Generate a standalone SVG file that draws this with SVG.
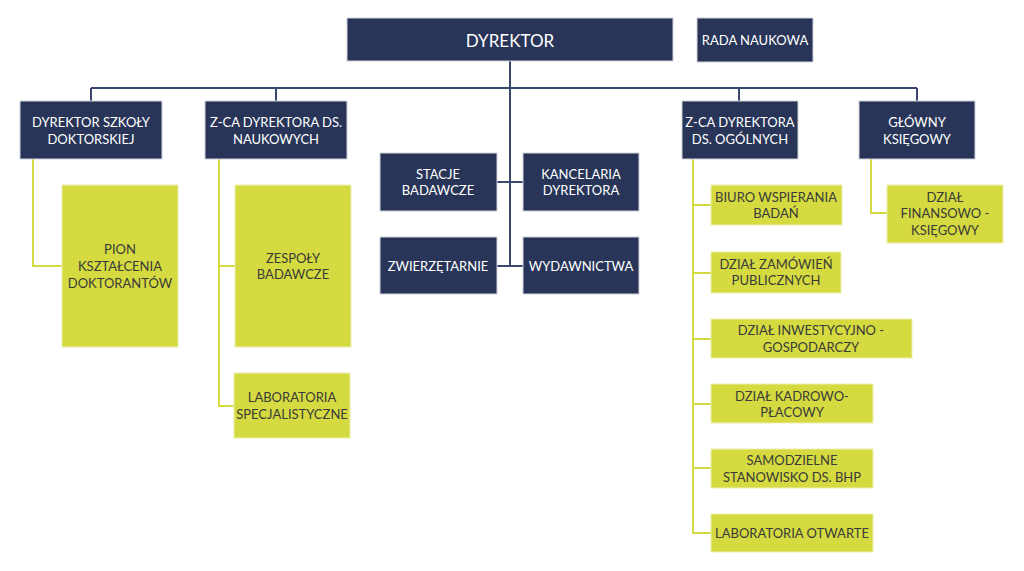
<svg xmlns="http://www.w3.org/2000/svg" width="1024" height="571" viewBox="0 0 1024 571">
<style>
.n rect{fill:#283558;stroke:#cfd3dc;stroke-width:1}
.y rect{fill:#d4da3f;stroke:#eef0b0;stroke-width:1}
text{font-family:Lato,"Open Sans","Liberation Sans",sans-serif;font-size:13px;text-anchor:middle;dominant-baseline:central}
.n text{fill:#ffffff}
.y text{fill:#3a3a3a}
.cn{stroke:#3b4870;stroke-width:2;fill:none}
.cy{stroke:#d4da3f;stroke-width:2;fill:none}
</style>
<rect width="1024" height="571" fill="#ffffff"/>
<g id="connectors">
<path class="cn" d="M510 61V266M91 88H917M91 88V101M276 88V101M739 88V101M917 88V101M497 182H523M497 266H523"/>
<path class="cy" d="M33 159V266H62M219 159V406H234M219 266H235M693 159V533H711M693 205H711M693 273H711M693 339H711M693 404H711M693 468H711M871 159V213H887"/>
</g>
<g id="dyrektor" class="n"><rect x="347" y="18" width="326" height="43"/><text x="510" y="40" style="font-size:17px">DYREKTOR</text></g>
<g id="rada" class="n"><rect x="697" y="18" width="116" height="44"/><text x="755" y="40">RADA NAUKOWA</text></g>
<g id="dyr-szkoly" class="n"><rect x="20" y="101" width="142" height="58"/><text x="91" y="122">DYREKTOR SZKOŁY</text><text x="91" y="139">DOKTORSKIEJ</text></g>
<g id="zca-nauk" class="n"><rect x="205" y="101" width="142" height="58"/><text x="276" y="122">Z-CA DYREKTORA DS.</text><text x="276" y="139">NAUKOWYCH</text></g>
<g id="zca-ogol" class="n"><rect x="682" y="101" width="116" height="58"/><text x="740" y="122">Z-CA DYREKTORA</text><text x="740" y="139">DS. OGÓLNYCH</text></g>
<g id="glowny" class="n"><rect x="859" y="101" width="116" height="58"/><text x="917" y="122">GŁÓWNY</text><text x="917" y="139">KSIĘGOWY</text></g>
<g id="stacje" class="n"><rect x="380" y="153" width="117" height="58"/><text x="438" y="174">STACJE</text><text x="438" y="190">BADAWCZE</text></g>
<g id="kancelaria" class="n"><rect x="523" y="153" width="116" height="58"/><text x="581" y="174">KANCELARIA</text><text x="581" y="190">DYREKTORA</text></g>
<g id="zwierz" class="n"><rect x="380" y="237" width="117" height="57"/><text x="438" y="266">ZWIERZĘTARNIE</text></g>
<g id="wydawnictwa" class="n"><rect x="523" y="237" width="116" height="57"/><text x="581" y="266">WYDAWNICTWA</text></g>
<g id="pion" class="y"><rect x="62" y="185" width="116" height="162"/><text x="120" y="249">PION</text><text x="120" y="266">KSZTAŁCENIA</text><text x="120" y="283">DOKTORANTÓW</text></g>
<g id="zespoly" class="y"><rect x="235" y="185" width="116" height="162"/><text x="293" y="258">ZESPOŁY</text><text x="293" y="274">BADAWCZE</text></g>
<g id="lab-spec" class="y"><rect x="234" y="373" width="116" height="65"/><text x="292" y="397">LABORATORIA</text><text x="292" y="414">SPECJALISTYCZNE</text></g>
<g id="biuro" class="y"><rect x="711" y="185" width="131" height="40"/><text x="776" y="197">BIURO WSPIERANIA</text><text x="776" y="213">BADAŃ</text></g>
<g id="zamowien" class="y"><rect x="711" y="252" width="130" height="41"/><text x="776" y="264">DZIAŁ ZAMÓWIEŃ</text><text x="776" y="280">PUBLICZNYCH</text></g>
<g id="inwest" class="y"><rect x="711" y="319" width="201" height="39"/><text x="811" y="330">DZIAŁ INWESTYCYJNO -</text><text x="811" y="347">GOSPODARCZY</text></g>
<g id="kadrowo" class="y"><rect x="711" y="384" width="162" height="39"/><text x="792" y="396">DZIAŁ KADROWO-</text><text x="792" y="412">PŁACOWY</text></g>
<g id="bhp" class="y"><rect x="711" y="449" width="162" height="39"/><text x="792" y="460">SAMODZIELNE</text><text x="792" y="477">STANOWISKO DS. BHP</text></g>
<g id="lab-otw" class="y"><rect x="711" y="514" width="162" height="38"/><text x="792" y="533">LABORATORIA OTWARTE</text></g>
<g id="finansowo" class="y"><rect x="887" y="185" width="116" height="58"/><text x="945" y="197">DZIAŁ</text><text x="945" y="213">FINANSOWO -</text><text x="945" y="230">KSIĘGOWY</text></g>
</svg>
